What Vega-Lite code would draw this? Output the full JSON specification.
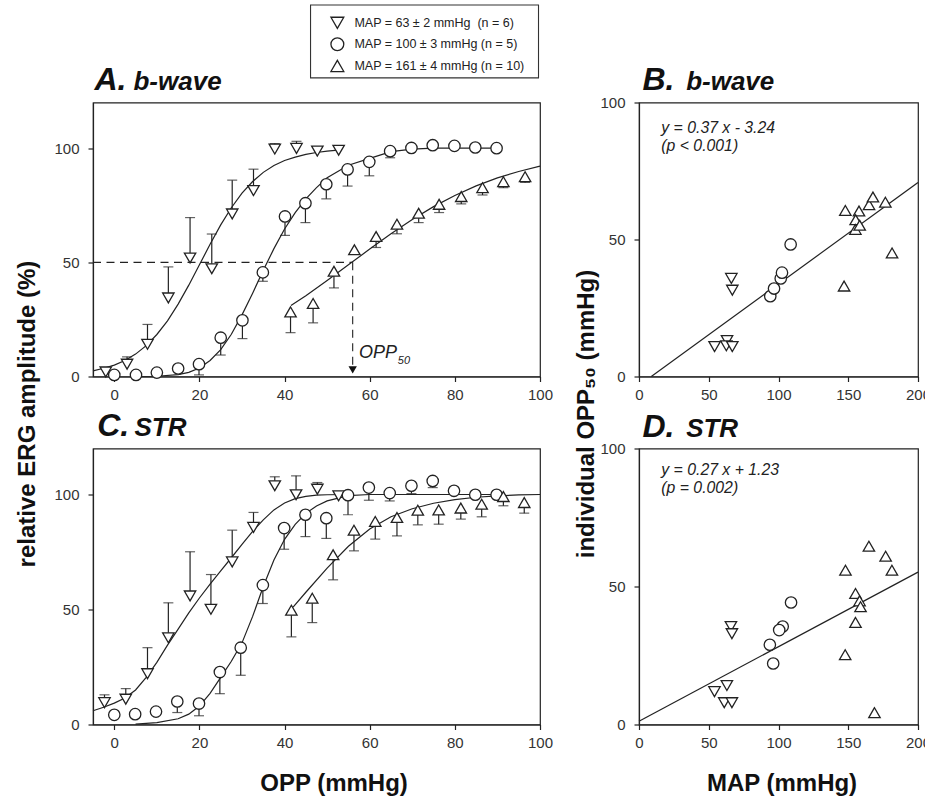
{
  "$schema": "https://vega.github.io/schema/vega-lite/v6.json",
  "background": "white",
  "padding": {"left": 14, "top": 3.5, "right": 0, "bottom": 0},
  "autosize": {"type": "pad"},
  "bounds": "flush",
  "columns": 2,
  "spacing": {"row": 72, "column": 99},
  "config": {
    "font": "Liberation Sans",
    "view": {"stroke": "#222", "strokeWidth": 1.2},
    "axis": {"grid": false, "domainColor": "#222", "domainWidth": 1.2, "tickColor": "#222", "tickWidth": 1.2, "tickSize": 5, "labelColor": "#333", "labelFont": "Liberation Sans", "labelFontSize": 15, "labelFlush": false, "labelOverlap": false, "titleFont": "Liberation Sans", "titleFontSize": 24, "titleFontWeight": "bold", "titleColor": "#111"},
    "axisX": {"labelPadding": 6},
    "axisY": {"labelPadding": 9}
  },
  "datasets": {
    "pts": [
      {"p":"A","g":"63","x":-2,"y":2},
      {"p":"A","g":"63","x":3,"y":5.4,"e":8.6},
      {"p":"A","g":"63","x":7.8,"y":14.1,"e":22.8},
      {"p":"A","g":"63","x":12.7,"y":34.4,"e":48},
      {"p":"A","g":"63","x":17.8,"y":51.9,"e":69.6},
      {"p":"A","g":"63","x":22.9,"y":47.2,"e":62.4},
      {"p":"A","g":"63","x":27.7,"y":71.2,"e":86},
      {"p":"A","g":"63","x":32.7,"y":81.4,"e":90.8},
      {"p":"A","g":"63","x":37.7,"y":99.6,"e":102},
      {"p":"A","g":"63","x":42.8,"y":99.9,"e":103},
      {"p":"A","g":"63","x":47.7,"y":98.7,"e":100.3},
      {"p":"A","g":"63","x":52.7,"y":99.1},
      {"p":"A","g":"100","x":0,"y":0.7},
      {"p":"A","g":"100","x":5.1,"y":0.7},
      {"p":"A","g":"100","x":10,"y":1.7},
      {"p":"A","g":"100","x":15,"y":3.5},
      {"p":"A","g":"100","x":19.9,"y":5.4,"e":0.7},
      {"p":"A","g":"100","x":25,"y":17,"e":9.4},
      {"p":"A","g":"100","x":30.1,"y":24.6,"e":16.6},
      {"p":"A","g":"100","x":34.9,"y":45.6,"e":41.7},
      {"p":"A","g":"100","x":40.1,"y":70.1,"e":61.8},
      {"p":"A","g":"100","x":44.9,"y":75.9,"e":67.4},
      {"p":"A","g":"100","x":49.8,"y":84.2,"e":77.8},
      {"p":"A","g":"100","x":54.8,"y":90.7,"e":83.4},
      {"p":"A","g":"100","x":59.9,"y":94,"e":87.9},
      {"p":"A","g":"100","x":64.8,"y":98.7,"e":95.8},
      {"p":"A","g":"100","x":69.8,"y":100.1},
      {"p":"A","g":"100","x":74.8,"y":101.3},
      {"p":"A","g":"100","x":79.9,"y":101},
      {"p":"A","g":"100","x":84.8,"y":100.3},
      {"p":"A","g":"100","x":89.8,"y":100},
      {"p":"A","g":"161","x":41.4,"y":28.3,"e":19.2},
      {"p":"A","g":"161","x":46.7,"y":32,"e":23.5},
      {"p":"A","g":"161","x":51.6,"y":46.1,"e":38.8},
      {"p":"A","g":"161","x":56.4,"y":55.5},
      {"p":"A","g":"161","x":61.5,"y":61.3,"e":56.5},
      {"p":"A","g":"161","x":66.4,"y":66.7,"e":62.5},
      {"p":"A","g":"161","x":71.5,"y":71.5,"e":67.4},
      {"p":"A","g":"161","x":76.3,"y":75.4,"e":71.8},
      {"p":"A","g":"161","x":81.5,"y":78.8,"e":75.6},
      {"p":"A","g":"161","x":86.5,"y":82.7,"e":79.5},
      {"p":"A","g":"161","x":91.4,"y":85.3,"e":82.7},
      {"p":"A","g":"161","x":96.5,"y":87.5,"e":85},
      {"p":"C","g":"63","x":-2.3,"y":9.5,"e":12.9},
      {"p":"C","g":"63","x":2.7,"y":11,"e":15.6},
      {"p":"C","g":"63","x":7.8,"y":22.1,"e":33.4},
      {"p":"C","g":"63","x":12.7,"y":37.7,"e":52.9},
      {"p":"C","g":"63","x":17.8,"y":55.9,"e":75.1},
      {"p":"C","g":"63","x":22.7,"y":50.1,"e":65.2},
      {"p":"C","g":"63","x":27.7,"y":70.7,"e":84.5},
      {"p":"C","g":"63","x":32.7,"y":85.7,"e":92.2},
      {"p":"C","g":"63","x":37.7,"y":103.8,"e":107.7},
      {"p":"C","g":"63","x":42.7,"y":99.9,"e":108.1},
      {"p":"C","g":"63","x":47.7,"y":102.3,"e":105.2},
      {"p":"C","g":"63","x":52.7,"y":99.4},
      {"p":"C","g":"100","x":0,"y":4.2},
      {"p":"C","g":"100","x":4.9,"y":4.5},
      {"p":"C","g":"100","x":9.8,"y":5.6},
      {"p":"C","g":"100","x":14.8,"y":10,"e":5.2},
      {"p":"C","g":"100","x":19.9,"y":9.1,"e":3.8},
      {"p":"C","g":"100","x":24.8,"y":22.8,"e":13.4},
      {"p":"C","g":"100","x":29.7,"y":33.4,"e":21.4},
      {"p":"C","g":"100","x":34.9,"y":60.6,"e":52.6},
      {"p":"C","g":"100","x":39.9,"y":85.4,"e":76.2},
      {"p":"C","g":"100","x":44.9,"y":91.2,"e":81.7},
      {"p":"C","g":"100","x":49.8,"y":89.7,"e":80.9},
      {"p":"C","g":"100","x":54.9,"y":99.7,"e":91.2},
      {"p":"C","g":"100","x":59.8,"y":103,"e":97.5},
      {"p":"C","g":"100","x":64.7,"y":100.6,"e":97.2},
      {"p":"C","g":"100","x":69.8,"y":103.8,"e":100.4},
      {"p":"C","g":"100","x":74.8,"y":105.9,"e":103},
      {"p":"C","g":"100","x":79.8,"y":101.6},
      {"p":"C","g":"100","x":84.8,"y":99.9},
      {"p":"C","g":"100","x":89.8,"y":99.9},
      {"p":"C","g":"161","x":41.6,"y":49.7,"e":38.1},
      {"p":"C","g":"161","x":46.5,"y":54.9,"e":44.3},
      {"p":"C","g":"161","x":51.4,"y":73.8,"e":62.9},
      {"p":"C","g":"161","x":56.3,"y":84.5,"e":75.5},
      {"p":"C","g":"161","x":61.3,"y":88.3,"e":80.6},
      {"p":"C","g":"161","x":66.4,"y":90,"e":82},
      {"p":"C","g":"161","x":71.3,"y":93.2,"e":86.8},
      {"p":"C","g":"161","x":76.2,"y":93.3,"e":87.1},
      {"p":"C","g":"161","x":81.4,"y":94.1,"e":89.3},
      {"p":"C","g":"161","x":86.3,"y":95.8,"e":90.3},
      {"p":"C","g":"161","x":91.4,"y":99.1,"e":95.1},
      {"p":"C","g":"161","x":96.3,"y":96.5,"e":91.9},
      {"p":"B","g":"63","x":66.2,"y":35.8},
      {"p":"B","g":"63","x":66.9,"y":31.5},
      {"p":"B","g":"63","x":54.2,"y":10.9},
      {"p":"B","g":"63","x":63.1,"y":13.1},
      {"p":"B","g":"63","x":62.6,"y":11.2},
      {"p":"B","g":"63","x":66.9,"y":10.9},
      {"p":"B","g":"100","x":94.1,"y":29.3},
      {"p":"B","g":"100","x":96.8,"y":32.1},
      {"p":"B","g":"100","x":101.6,"y":35.8},
      {"p":"B","g":"100","x":102.5,"y":37.9},
      {"p":"B","g":"100","x":108.7,"y":48.2},
      {"p":"B","g":"161","x":147.9,"y":60.6},
      {"p":"B","g":"161","x":147,"y":33},
      {"p":"B","g":"161","x":157.7,"y":60.4},
      {"p":"B","g":"161","x":155.3,"y":57.2},
      {"p":"B","g":"161","x":155.1,"y":53.7},
      {"p":"B","g":"161","x":158.2,"y":55.2},
      {"p":"B","g":"161","x":164.9,"y":62.7},
      {"p":"B","g":"161","x":167.7,"y":65.5},
      {"p":"B","g":"161","x":176.6,"y":63.6},
      {"p":"B","g":"161","x":181.4,"y":45.1},
      {"p":"D","g":"63","x":65.9,"y":35.5},
      {"p":"D","g":"63","x":66.6,"y":32.9},
      {"p":"D","g":"63","x":63,"y":14.1},
      {"p":"D","g":"63","x":54.1,"y":11.9},
      {"p":"D","g":"63","x":61.1,"y":7.9},
      {"p":"D","g":"63","x":66.6,"y":7.9},
      {"p":"D","g":"100","x":109,"y":44.2},
      {"p":"D","g":"100","x":103,"y":35.5},
      {"p":"D","g":"100","x":100.5,"y":34.2},
      {"p":"D","g":"100","x":93.8,"y":28.9},
      {"p":"D","g":"100","x":96.2,"y":22.1},
      {"p":"D","g":"161","x":164.8,"y":64.6},
      {"p":"D","g":"161","x":176.8,"y":61},
      {"p":"D","g":"161","x":181.3,"y":55.9},
      {"p":"D","g":"161","x":148,"y":55.9},
      {"p":"D","g":"161","x":155.2,"y":47.5},
      {"p":"D","g":"161","x":158.1,"y":44.8},
      {"p":"D","g":"161","x":158.8,"y":42.7},
      {"p":"D","g":"161","x":155.2,"y":37},
      {"p":"D","g":"161","x":147.8,"y":25.3},
      {"p":"D","g":"161","x":168.8,"y":4.3}
    ],
    "fit": [
      {"p":"A","g":"63","x":-5,"y":2.5},{"p":"A","g":"63","x":-2.5,"y":3.6},{"p":"A","g":"63","x":0,"y":5},{"p":"A","g":"63","x":2.5,"y":7},{"p":"A","g":"63","x":5,"y":9.8},{"p":"A","g":"63","x":7.5,"y":13.5},{"p":"A","g":"63","x":10,"y":18.4},{"p":"A","g":"63","x":12.5,"y":24.4},{"p":"A","g":"63","x":15,"y":31.7},{"p":"A","g":"63","x":17.5,"y":40},{"p":"A","g":"63","x":20,"y":48.9},{"p":"A","g":"63","x":22.5,"y":57.9},{"p":"A","g":"63","x":25,"y":66.4},{"p":"A","g":"63","x":27.5,"y":73.9},{"p":"A","g":"63","x":30,"y":80.3},{"p":"A","g":"63","x":32.5,"y":85.4},{"p":"A","g":"63","x":35,"y":89.4},{"p":"A","g":"63","x":37.5,"y":92.4},{"p":"A","g":"63","x":40,"y":94.6},{"p":"A","g":"63","x":42.5,"y":96.1},{"p":"A","g":"63","x":45,"y":97.3},{"p":"A","g":"63","x":47.5,"y":98.1},{"p":"A","g":"63","x":50,"y":98.7},{"p":"A","g":"63","x":52.5,"y":99.1},
      {"p":"A","g":"100","x":5,"y":0},{"p":"A","g":"100","x":10,"y":0.1},{"p":"A","g":"100","x":15,"y":0.8},{"p":"A","g":"100","x":17.5,"y":1.8},{"p":"A","g":"100","x":20,"y":3.7},{"p":"A","g":"100","x":22.5,"y":7},{"p":"A","g":"100","x":25,"y":11.8},{"p":"A","g":"100","x":27.5,"y":18.5},{"p":"A","g":"100","x":30,"y":27},{"p":"A","g":"100","x":32.5,"y":36.5},{"p":"A","g":"100","x":35,"y":46.5},{"p":"A","g":"100","x":37.5,"y":56},{"p":"A","g":"100","x":40,"y":64.6},{"p":"A","g":"100","x":42.5,"y":71.8},{"p":"A","g":"100","x":45,"y":77.8},{"p":"A","g":"100","x":47.5,"y":82.7},{"p":"A","g":"100","x":50,"y":87},{"p":"A","g":"100","x":55,"y":92.5},{"p":"A","g":"100","x":60,"y":95.5},{"p":"A","g":"100","x":65,"y":98.5},{"p":"A","g":"100","x":70,"y":99.6},{"p":"A","g":"100","x":75,"y":100},{"p":"A","g":"100","x":80,"y":100},{"p":"A","g":"100","x":85,"y":100},{"p":"A","g":"100","x":90,"y":100},
      {"p":"A","g":"161","x":41.5,"y":31.1},{"p":"A","g":"161","x":45,"y":35.4},{"p":"A","g":"161","x":50,"y":42},{"p":"A","g":"161","x":55,"y":48.9},{"p":"A","g":"161","x":60,"y":55.8},{"p":"A","g":"161","x":65,"y":62.5},{"p":"A","g":"161","x":70,"y":68.8},{"p":"A","g":"161","x":75,"y":74.4},{"p":"A","g":"161","x":80,"y":79.3},{"p":"A","g":"161","x":85,"y":83.5},{"p":"A","g":"161","x":90,"y":87},{"p":"A","g":"161","x":95,"y":89.8},{"p":"A","g":"161","x":100,"y":92.1},
      {"p":"C","g":"63","x":-5,"y":6},{"p":"C","g":"63","x":-2.5,"y":7.5},{"p":"C","g":"63","x":0,"y":9.3},{"p":"C","g":"63","x":2.5,"y":11.5},{"p":"C","g":"63","x":5,"y":15},{"p":"C","g":"63","x":7.5,"y":20.5},{"p":"C","g":"63","x":10,"y":27},{"p":"C","g":"63","x":12.5,"y":34.5},{"p":"C","g":"63","x":15,"y":41.5},{"p":"C","g":"63","x":17.5,"y":48.5},{"p":"C","g":"63","x":20,"y":55},{"p":"C","g":"63","x":22.5,"y":61},{"p":"C","g":"63","x":25,"y":66.8},{"p":"C","g":"63","x":27.5,"y":72.5},{"p":"C","g":"63","x":30,"y":78.3},{"p":"C","g":"63","x":32.5,"y":84},{"p":"C","g":"63","x":35,"y":89},{"p":"C","g":"63","x":37.5,"y":93.3},{"p":"C","g":"63","x":40,"y":96.3},{"p":"C","g":"63","x":42.5,"y":98.2},{"p":"C","g":"63","x":45,"y":99.2},{"p":"C","g":"63","x":47.5,"y":99.7},{"p":"C","g":"63","x":50,"y":99.9},{"p":"C","g":"63","x":55,"y":100},
      {"p":"C","g":"100","x":5,"y":0.2},{"p":"C","g":"100","x":10,"y":0.8},{"p":"C","g":"100","x":15,"y":2.5},{"p":"C","g":"100","x":17.5,"y":4.5},{"p":"C","g":"100","x":20,"y":8},{"p":"C","g":"100","x":22.5,"y":13.5},{"p":"C","g":"100","x":25,"y":20.5},{"p":"C","g":"100","x":27.5,"y":27.5},{"p":"C","g":"100","x":30,"y":35.5},{"p":"C","g":"100","x":32.5,"y":47},{"p":"C","g":"100","x":35,"y":60},{"p":"C","g":"100","x":37.5,"y":71.5},{"p":"C","g":"100","x":40,"y":80.5},{"p":"C","g":"100","x":42.5,"y":87},{"p":"C","g":"100","x":45,"y":91.8},{"p":"C","g":"100","x":47.5,"y":95},{"p":"C","g":"100","x":50,"y":97.2},{"p":"C","g":"100","x":55,"y":99.5},{"p":"C","g":"100","x":60,"y":100},{"p":"C","g":"100","x":70,"y":100},{"p":"C","g":"100","x":80,"y":100},{"p":"C","g":"100","x":90,"y":100},
      {"p":"C","g":"161","x":42,"y":51},{"p":"C","g":"161","x":45,"y":57.5},{"p":"C","g":"161","x":50,"y":68},{"p":"C","g":"161","x":55,"y":77.5},{"p":"C","g":"161","x":60,"y":85},{"p":"C","g":"161","x":65,"y":90.3},{"p":"C","g":"161","x":70,"y":93.8},{"p":"C","g":"161","x":75,"y":96.2},{"p":"C","g":"161","x":80,"y":97.8},{"p":"C","g":"161","x":85,"y":98.8},{"p":"C","g":"161","x":90,"y":99.4},{"p":"C","g":"161","x":95,"y":99.8},{"p":"C","g":"161","x":100,"y":100},
      {"p":"B","g":"reg","x":8.8,"y":0},{"p":"B","g":"reg","x":200,"y":70.8},
      {"p":"D","g":"reg","x":0,"y":1.2},{"p":"D","g":"reg","x":200,"y":55.2}
    ],
    "labels": [
      {"p":"A","k":"L","x":-4.65,"y":125.3,"t":"A."},
      {"p":"A","k":"W","x":4.5,"y":125.3,"t":"b-wave"},
      {"p":"C","k":"L","x":-4.0,"y":125.6,"t":"C."},
      {"p":"C","k":"W","x":4.75,"y":125.6,"t":"STR"},
      {"p":"B","k":"L","x":2.5,"y":104.4,"t":"B."},
      {"p":"B","k":"W","x":33.8,"y":104.4,"t":"b-wave"},
      {"p":"D","k":"L","x":2.5,"y":104,"t":"D."},
      {"p":"D","k":"W","x":33.8,"y":104,"t":"STR"},
      {"p":"A","k":"O","x":57.5,"y":8.2,"t":"OPP"},
      {"p":"A","k":"S","x":66.6,"y":5.5,"t":"50"},
      {"p":"B","k":"E","x":16,"y":89,"t":"y = 0.37 x - 3.24"},
      {"p":"B","k":"E","x":16,"y":82.3,"t":"(p < 0.001)"},
      {"p":"D","k":"E","x":16,"y":90.5,"t":"y = 0.27 x + 1.23"},
      {"p":"D","k":"E","x":16,"y":83.8,"t":"(p = 0.002)"}
    ],
    "legendBox": [{"x": 46.1, "x2": 99.65, "y": 130.8, "y2": 162.7}],
    "legendRows": [
      {"g": "63", "x": 52.4, "lx": 56.4, "y": 154.9, "t": "MAP = 63 ± 2 mmHg \u00a0(n = 6)"},
      {"g": "100", "x": 52.4, "lx": 56.4, "y": 145.5, "t": "MAP = 100 ± 3 mmHg (n = 5)"},
      {"g": "161", "x": 52.4, "lx": 56.4, "y": 136.0, "t": "MAP = 161 ± 4 mmHg (n = 10)"}
    ],
    "hline": [{"x": -5, "x2": 56, "y": 50}],
    "vline": [{"x": 56, "y": 50, "y2": 4.5}],
    "arrow": [{"x": 56, "y": 2.9}]
  },
  "concat": [
    {
      "width": 447, "height": 274,
      "encoding": {
        "x": {"field": "x", "type": "quantitative", "scale": {"domain": [-5, 100], "nice": false, "zero": false}, "axis": {"values": [0,20,40,60,80,100], "title": null}},
        "y": {"field": "y", "type": "quantitative", "scale": {"domain": [0, 120], "nice": false}, "axis": {"values": [0,50,100], "title": "relative ERG amplitude (%)", "titleX": -58.5, "titleY": 311, "titleBaseline": "alphabetic"}}
      },
      "layer": [
        {"data": {"name": "legendBox"}, "mark": {"type": "rect", "fill": "white", "stroke": "#333", "strokeWidth": 1.1}, "encoding": {"x2": {"field": "x2"}, "y2": {"field": "y2"}}},
        {"data": {"name": "legendRows"}, "mark": {"type": "point", "filled": false, "stroke": "#222", "fill": "white", "fillOpacity": 1, "strokeWidth": 1.3, "size": 165, "opacity": 1},
         "encoding": {"shape": {"field": "g", "type": "nominal", "scale": {"domain": ["63","100","161"], "range": ["triangle-down","circle","triangle-up"]}, "legend": null}}},
        {"data": {"name": "legendRows"}, "mark": {"type": "text", "align": "left", "baseline": "middle", "fontSize": 12.5, "color": "#222"}, "encoding": {"x": {"field": "lx", "type": "quantitative"}, "text": {"field": "t"}}},
        {"data": {"name": "hline"}, "mark": {"type": "rule", "strokeDash": [8, 5.5], "color": "#222", "strokeWidth": 1.1}, "encoding": {"x2": {"field": "x2"}}},
        {"data": {"name": "vline"}, "mark": {"type": "rule", "strokeDash": [8, 5.5], "color": "#222", "strokeWidth": 1.1}, "encoding": {"y2": {"field": "y2"}}},
        {"data": {"name": "arrow"}, "mark": {"type": "point", "shape": "triangle-down", "filled": true, "color": "#111", "size": 70, "opacity": 1}},
        {"data": {"name": "fit"}, "transform": [{"filter": "datum.p == 'A'"}], "mark": {"type": "line", "color": "#222", "strokeWidth": 1.2}, "encoding": {"detail": {"field": "g"}}},
        {"data": {"name": "pts"}, "transform": [{"filter": "datum.p == 'A' && isValid(datum.e)"}], "mark": {"type": "rule", "color": "#222", "strokeWidth": 1.2}, "encoding": {"y2": {"field": "e"}}},
        {"data": {"name": "pts"}, "transform": [{"filter": "datum.p == 'A' && isValid(datum.e)"}], "mark": {"type": "tick", "orient": "horizontal", "color": "#222", "size": 10, "thickness": 1.2}, "encoding": {"y": {"field": "e", "type": "quantitative"}}},
        {"data": {"name": "pts"}, "transform": [{"filter": "datum.p == 'A'"}], "mark": {"type": "point", "filled": false, "stroke": "#222", "fill": "white", "fillOpacity": 1, "strokeWidth": 1.3, "size": 130, "opacity": 1},
         "encoding": {"shape": {"field": "g", "type": "nominal", "scale": {"domain": ["63","100","161"], "range": ["triangle-down","circle","triangle-up"]}, "legend": null}}},
        {"data": {"name": "labels"}, "transform": [{"filter": "datum.p == 'A' && datum.k == 'L'"}], "mark": {"type": "text", "align": "left", "baseline": "alphabetic", "fontSize": 32, "fontWeight": "bold", "fontStyle": "italic", "color": "#111"}, "encoding": {"text": {"field": "t"}}},
        {"data": {"name": "labels"}, "transform": [{"filter": "datum.p == 'A' && datum.k == 'W'"}], "mark": {"type": "text", "align": "left", "baseline": "alphabetic", "fontSize": 26, "fontWeight": "bold", "fontStyle": "italic", "color": "#111"}, "encoding": {"text": {"field": "t"}}},
        {"data": {"name": "labels"}, "transform": [{"filter": "datum.p == 'A' && datum.k == 'O'"}], "mark": {"type": "text", "align": "left", "baseline": "alphabetic", "fontSize": 18, "fontStyle": "italic", "color": "#222"}, "encoding": {"text": {"field": "t"}}},
        {"data": {"name": "labels"}, "transform": [{"filter": "datum.p == 'A' && datum.k == 'S'"}], "mark": {"type": "text", "align": "left", "baseline": "alphabetic", "fontSize": 11, "fontStyle": "italic", "color": "#222"}, "encoding": {"text": {"field": "t"}}}
      ]
    },
    {
      "width": 279, "height": 274,
      "encoding": {
        "x": {"field": "x", "type": "quantitative", "scale": {"domain": [0, 200], "nice": false}, "axis": {"values": [0,50,100,150,200], "title": null}},
        "y": {"field": "y", "type": "quantitative", "scale": {"domain": [0, 100], "nice": false}, "axis": {"values": [0,50,100], "title": "individual OPP₅₀ (mmHg)", "titleX": -45.5, "titleY": 311, "titleBaseline": "alphabetic"}}
      },
      "layer": [
        {"data": {"name": "fit"}, "transform": [{"filter": "datum.p == 'B'"}], "mark": {"type": "line", "color": "#222", "strokeWidth": 1.2}},
        {"data": {"name": "pts"}, "transform": [{"filter": "datum.p == 'B'"}], "mark": {"type": "point", "filled": false, "stroke": "#222", "fill": "white", "fillOpacity": 1, "strokeWidth": 1.3, "size": 130, "opacity": 1},
         "encoding": {"shape": {"field": "g", "type": "nominal", "scale": {"domain": ["63","100","161"], "range": ["triangle-down","circle","triangle-up"]}, "legend": null}}},
        {"data": {"name": "labels"}, "transform": [{"filter": "datum.p == 'B' && datum.k == 'L'"}], "mark": {"type": "text", "align": "left", "baseline": "alphabetic", "fontSize": 32, "fontWeight": "bold", "fontStyle": "italic", "color": "#111"}, "encoding": {"text": {"field": "t"}}},
        {"data": {"name": "labels"}, "transform": [{"filter": "datum.p == 'B' && datum.k == 'W'"}], "mark": {"type": "text", "align": "left", "baseline": "alphabetic", "fontSize": 26, "fontWeight": "bold", "fontStyle": "italic", "color": "#111"}, "encoding": {"text": {"field": "t"}}},
        {"data": {"name": "labels"}, "transform": [{"filter": "datum.p == 'B' && datum.k == 'E'"}], "mark": {"type": "text", "align": "left", "baseline": "alphabetic", "fontSize": 15.8, "fontStyle": "italic", "color": "#222"}, "encoding": {"text": {"field": "t"}}}
      ]
    },
    {
      "width": 447, "height": 276,
      "encoding": {
        "x": {"field": "x", "type": "quantitative", "scale": {"domain": [-5, 100], "nice": false, "zero": false}, "axis": {"values": [0,20,40,60,80,100], "title": "OPP (mmHg)", "titleX": 240.5, "titleY": 66, "titleBaseline": "alphabetic"}},
        "y": {"field": "y", "type": "quantitative", "scale": {"domain": [0, 120], "nice": false}, "axis": {"values": [0,50,100], "title": null}}
      },
      "layer": [
        {"data": {"name": "fit"}, "transform": [{"filter": "datum.p == 'C'"}], "mark": {"type": "line", "color": "#222", "strokeWidth": 1.2}, "encoding": {"detail": {"field": "g"}}},
        {"data": {"name": "pts"}, "transform": [{"filter": "datum.p == 'C' && isValid(datum.e)"}], "mark": {"type": "rule", "color": "#222", "strokeWidth": 1.2}, "encoding": {"y2": {"field": "e"}}},
        {"data": {"name": "pts"}, "transform": [{"filter": "datum.p == 'C' && isValid(datum.e)"}], "mark": {"type": "tick", "orient": "horizontal", "color": "#222", "size": 10, "thickness": 1.2}, "encoding": {"y": {"field": "e", "type": "quantitative"}}},
        {"data": {"name": "pts"}, "transform": [{"filter": "datum.p == 'C'"}], "mark": {"type": "point", "filled": false, "stroke": "#222", "fill": "white", "fillOpacity": 1, "strokeWidth": 1.3, "size": 130, "opacity": 1},
         "encoding": {"shape": {"field": "g", "type": "nominal", "scale": {"domain": ["63","100","161"], "range": ["triangle-down","circle","triangle-up"]}, "legend": null}}},
        {"data": {"name": "labels"}, "transform": [{"filter": "datum.p == 'C' && datum.k == 'L'"}], "mark": {"type": "text", "align": "left", "baseline": "alphabetic", "fontSize": 32, "fontWeight": "bold", "fontStyle": "italic", "color": "#111"}, "encoding": {"text": {"field": "t"}}},
        {"data": {"name": "labels"}, "transform": [{"filter": "datum.p == 'C' && datum.k == 'W'"}], "mark": {"type": "text", "align": "left", "baseline": "alphabetic", "fontSize": 26, "fontWeight": "bold", "fontStyle": "italic", "color": "#111"}, "encoding": {"text": {"field": "t"}}}
      ]
    },
    {
      "width": 279, "height": 276,
      "encoding": {
        "x": {"field": "x", "type": "quantitative", "scale": {"domain": [0, 200], "nice": false}, "axis": {"values": [0,50,100,150,200], "title": "MAP (mmHg)", "titleX": 142.5, "titleY": 66, "titleBaseline": "alphabetic"}},
        "y": {"field": "y", "type": "quantitative", "scale": {"domain": [0, 100], "nice": false}, "axis": {"values": [0,50,100], "title": null}}
      },
      "layer": [
        {"data": {"name": "fit"}, "transform": [{"filter": "datum.p == 'D'"}], "mark": {"type": "line", "color": "#222", "strokeWidth": 1.2}},
        {"data": {"name": "pts"}, "transform": [{"filter": "datum.p == 'D'"}], "mark": {"type": "point", "filled": false, "stroke": "#222", "fill": "white", "fillOpacity": 1, "strokeWidth": 1.3, "size": 130, "opacity": 1},
         "encoding": {"shape": {"field": "g", "type": "nominal", "scale": {"domain": ["63","100","161"], "range": ["triangle-down","circle","triangle-up"]}, "legend": null}}},
        {"data": {"name": "labels"}, "transform": [{"filter": "datum.p == 'D' && datum.k == 'L'"}], "mark": {"type": "text", "align": "left", "baseline": "alphabetic", "fontSize": 32, "fontWeight": "bold", "fontStyle": "italic", "color": "#111"}, "encoding": {"text": {"field": "t"}}},
        {"data": {"name": "labels"}, "transform": [{"filter": "datum.p == 'D' && datum.k == 'W'"}], "mark": {"type": "text", "align": "left", "baseline": "alphabetic", "fontSize": 26, "fontWeight": "bold", "fontStyle": "italic", "color": "#111"}, "encoding": {"text": {"field": "t"}}},
        {"data": {"name": "labels"}, "transform": [{"filter": "datum.p == 'D' && datum.k == 'E'"}], "mark": {"type": "text", "align": "left", "baseline": "alphabetic", "fontSize": 15.8, "fontStyle": "italic", "color": "#222"}, "encoding": {"text": {"field": "t"}}}
      ]
    }
  ]
}
